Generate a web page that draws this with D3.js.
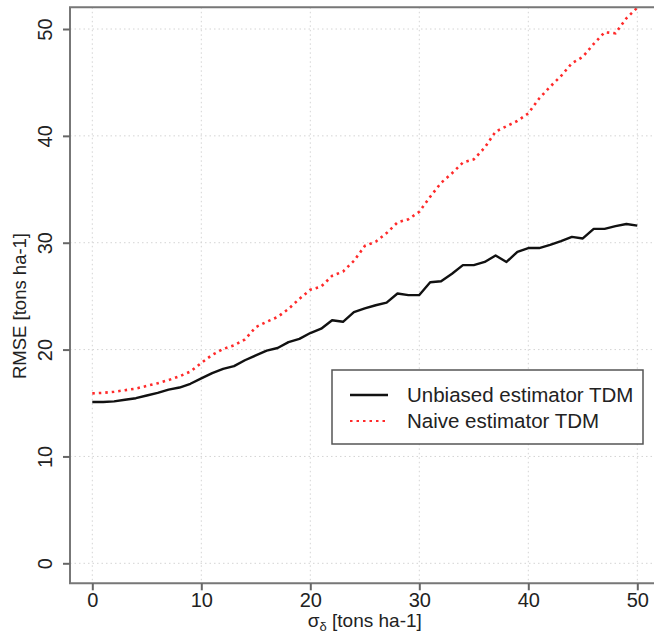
<!doctype html>
<html>
<head>
<meta charset="utf-8">
<title>RMSE vs sigma delta</title>
<script src="https://d3js.org/d3.v7.min.js"></script>
<style>
  body { margin: 0; background: #fff; }
  text { font-family: "Liberation Sans", Arial, sans-serif; fill: #222; }
</style>
</head>
<body>
<svg id="chart" width="654" height="634"></svg>
<script>
// sigma_delta values (tons ha-1)
const sigma = d3.range(0, 51);

// RMSE of the unbiased estimator TDM
const unbiased = [15.1, 15.1, 15.15, 15.3, 15.45, 15.7, 15.95, 16.25, 16.45, 16.8,
  17.3, 17.8, 18.2, 18.45, 19.0, 19.45, 19.9, 20.15, 20.7, 21.0,
  21.55, 21.95, 22.75, 22.6, 23.5, 23.85, 24.15, 24.4, 25.25, 25.1,
  25.1, 26.3, 26.4, 27.1, 27.9, 27.9, 28.2, 28.8, 28.2, 29.15,
  29.5, 29.5, 29.8, 30.15, 30.55, 30.4, 31.3, 31.3, 31.55, 31.75, 31.6];

// RMSE of the naive estimator TDM
const naive = [15.9, 15.95, 16.05, 16.2, 16.35, 16.6, 16.85, 17.15, 17.5, 17.95,
  18.75, 19.5, 20.05, 20.4, 20.95, 22.1, 22.6, 23.05, 23.8, 24.75,
  25.6, 25.9, 26.9, 27.3, 28.3, 29.7, 30.1, 30.9, 31.9, 32.2,
  32.9, 34.3, 35.6, 36.5, 37.5, 37.8, 38.9, 40.4, 40.9, 41.4,
  42.1, 43.5, 44.6, 45.6, 46.8, 47.4, 48.6, 49.7, 49.6, 51.0, 52.0];

const xTicks = [0, 10, 20, 30, 40, 50];
const yTicks = [0, 10, 20, 30, 40, 50];

const seriesNames = ["Unbiased estimator TDM", "Naive estimator TDM"];

const svg = d3.select("#chart");

// plot frame
const frame = {left: 70, top: 7.3, right: 656, bottom: 583.3};

const x = d3.scaleLinear().domain([0, 50]).range([92.3, 637.3]);
const y = d3.scaleLinear().domain([0, 50]).range([563.3, 29]);

// clip for the lines
svg.append("clipPath").attr("id", "plotclip")
  .append("rect")
    .attr("x", frame.left).attr("y", frame.top)
    .attr("width", frame.right - frame.left)
    .attr("height", frame.bottom - frame.top);

// grid lines
const grid = svg.append("g");
grid.selectAll(".vgrid")
  .data(xTicks)
  .join("line")
    .attr("x1", d => x(d)).attr("x2", d => x(d))
    .attr("y1", frame.top).attr("y2", frame.bottom)
    .attr("stroke", "#d4d4d4")
    .attr("stroke-width", 1)
    .attr("stroke-dasharray", "1.5,3");
grid.selectAll(".hgrid")
  .data(yTicks)
  .join("line")
    .attr("y1", d => y(d)).attr("y2", d => y(d))
    .attr("x1", frame.left).attr("x2", frame.right)
    .attr("stroke", "#d4d4d4")
    .attr("stroke-width", 1)
    .attr("stroke-dasharray", "1.5,3");

// lines
const line = d3.line()
  .x((d, i) => x(sigma[i]))
  .y(d => y(d));

svg.append("path")
  .datum(unbiased)
  .attr("clip-path", "url(#plotclip)")
  .attr("fill", "none")
  .attr("stroke", "#111")
  .attr("stroke-width", 2.4)
  .attr("stroke-linejoin", "round")
  .attr("d", line);

svg.append("path")
  .datum(naive)
  .attr("clip-path", "url(#plotclip)")
  .attr("fill", "none")
  .attr("stroke", "#ff2a2a")
  .attr("stroke-width", 2.6)
  .attr("stroke-dasharray", "2.5,4")
  .attr("d", line);

// frame: left, top, bottom
svg.append("path")
  .attr("fill", "none")
  .attr("stroke", "#777")
  .attr("stroke-width", 2)
  .attr("d", `M${frame.right},${frame.top}H${frame.left}V${frame.bottom}H${frame.right}`);

// x axis
const xAxis = svg.append("g")
  .attr("transform", `translate(0,${frame.bottom})`)
  .call(d3.axisBottom(x).tickValues(xTicks).tickSize(7).tickPadding(3));
xAxis.select(".domain").remove();
xAxis.selectAll(".tick line").attr("stroke", "#666").attr("stroke-width", 2);
xAxis.selectAll(".tick text")
  .attr("font-size", "20px")
  .attr("fill", "#222")
  .style("font-family", "'Liberation Sans', Arial, sans-serif");

// y axis with rotated labels
const yAxis = svg.append("g")
  .attr("transform", `translate(${frame.left},0)`)
  .call(d3.axisLeft(y).tickValues(yTicks).tickSize(7));
yAxis.select(".domain").remove();
yAxis.selectAll(".tick line").attr("stroke", "#666").attr("stroke-width", 2);
yAxis.selectAll(".tick text")
  .attr("font-size", "20px")
  .attr("fill", "#222")
  .attr("x", null).attr("dy", null)
  .attr("text-anchor", "middle")
  .attr("transform", "translate(-18,0) rotate(-90)")
  .style("font-family", "'Liberation Sans', Arial, sans-serif");

// axis titles
const xTitle = svg.append("text")
  .attr("x", (x(0) + x(50)) / 2)
  .attr("y", 627)
  .attr("text-anchor", "middle")
  .attr("font-size", "19px");
xTitle.append("tspan").text("\u03c3");
xTitle.append("tspan").attr("font-size", "13px").attr("dy", 4).text("\u03b4");
xTitle.append("tspan").attr("dy", -4).text(" [tons ha-1]");

svg.append("text")
  .attr("transform", "translate(26,306) rotate(-90)")
  .attr("text-anchor", "middle")
  .attr("font-size", "18.5px")
  .text("RMSE [tons ha-1]");

// legend
const legend = svg.append("g");
legend.append("rect")
  .attr("x", 332).attr("y", 370)
  .attr("width", 311).attr("height", 74)
  .attr("fill", "#fff")
  .attr("stroke", "#555")
  .attr("stroke-width", 1.5);

const legendRows = legend.selectAll(".row")
  .data(seriesNames)
  .join("g")
    .attr("transform", (d, i) => `translate(0,${395 + i * 26})`);

legendRows.append("line")
  .attr("x1", 350).attr("x2", 388)
  .attr("y1", 0).attr("y2", 0)
  .attr("stroke", (d, i) => i === 0 ? "#111" : "#ff2a2a")
  .attr("stroke-width", (d, i) => i === 0 ? 2.4 : 2.2)
  .attr("stroke-dasharray", (d, i) => i === 0 ? null : "2.5,4");

legendRows.append("text")
  .attr("x", 407).attr("y", 7)
  .attr("font-size", "20.5px")
  .text(d => d);
</script>
</body>
</html>
